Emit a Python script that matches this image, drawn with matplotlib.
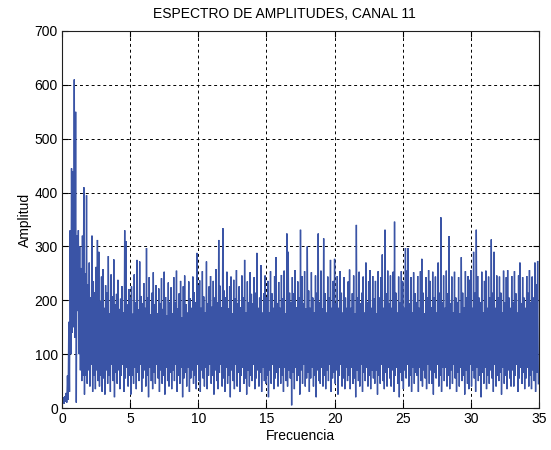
import numpy as np
import matplotlib
matplotlib.use("Agg")
import matplotlib.pyplot as plt

plt.rcParams['font.family'] = ['Liberation Sans', 'DejaVu Sans']

title = "ESPECTRO DE AMPLITUDES, CANAL 11"
xlabel = "Frecuencia"
ylabel = "Amplitud"
xticks = [0, 5, 10, 15, 20, 25, 30, 35]
yticks = [0, 100, 200, 300, 400, 500, 600, 700]

# local maxima of the spectrum, one every 0.1 Hz
upper = [
    25, 20, 22, 28, 60, 160, 330, 445, 440, 610,
    550, 320, 330, 300, 260, 320, 410, 250, 395, 230,
    270, 205, 320, 235, 215, 262, 312, 290, 198, 244,
    258, 186, 228, 214, 282, 176, 248, 207, 276, 193,
    212, 238, 184, 203, 226, 178, 330, 310, 192, 221,
    204, 226, 175, 248, 196, 275, 183, 272, 208, 194,
    232, 186, 297, 205, 243, 174, 214, 252, 192, 228,
    176, 222, 195, 241, 184, 253, 206, 172, 233, 197,
    224, 176, 243, 196, 255, 185, 213, 236, 168, 226,
    246, 193, 177, 235, 204, 186, 244, 215, 196, 288,
    228, 237, 186, 254, 207, 178, 272, 194, 226, 245,
    188, 236, 205, 258, 196, 312, 227, 187, 334, 218,
    206, 253, 185, 226, 244, 176, 238, 204, 256, 195,
    226, 187, 246, 205, 275, 178, 235, 196, 252, 212,
    194, 243, 214, 288, 186, 205, 265, 177, 213, 246,
    205, 236, 178, 254, 213, 186, 245, 280, 195, 234,
    186, 247, 204, 255, 176, 324, 290, 214, 196, 243,
    213, 256, 187, 235, 206, 331, 245, 195, 254, 185,
    300, 218, 186, 252, 205, 177, 246, 214, 324, 196,
    255, 185, 315, 213, 177, 244, 206, 275, 186, 236,
    277, 195, 245, 186, 254, 214, 177, 243, 205, 186,
    235, 257, 186, 213, 246, 176, 340, 205, 253, 195,
    214, 244, 177, 270, 196, 235, 256, 186, 245, 204,
    236, 176, 254, 205, 243, 285, 186, 331, 213, 255,
    195, 246, 186, 253, 346, 214, 177, 244, 196, 254,
    235, 186, 297, 255, 297, 195, 243, 177, 252, 213,
    196, 245, 186, 254, 277, 214, 176, 243, 205, 256,
    236, 187, 253, 205, 244, 177, 270, 214, 354, 196,
    246, 186, 255, 213, 319, 195, 244, 177, 253, 205,
    196, 243, 176, 280, 214, 187, 254, 205, 245, 238,
    256, 186, 290, 214, 331, 245, 205, 196, 253, 178,
    236, 255, 186, 244, 205, 313, 214, 290, 186, 246,
    205, 244, 214, 177, 255, 196, 243, 256, 205, 186,
    245, 196, 254, 213, 177, 246, 270, 195, 243, 205,
    186, 245, 214, 256, 196, 244, 205, 270, 230, 273,
]

# local minima, one between each pair of maxima
lower = [
    10, 8, 12, 10, 15, 30, 100, 140, 150, 130,
    10, 180, 100, 70, 50, 60, 25, 60, 45, 70,
    40, 80, 30, 60, 35, 70, 50, 40, 60, 30,
    55, 25, 70, 45, 60, 30, 80, 50, 20, 65,
    45, 70, 35, 60, 80, 30, 55, 75, 40, 60,
    25, 60, 45, 75, 35, 65, 50, 80, 30, 55,
    70, 40, 60, 20, 75, 50, 35, 65, 45, 80,
    55, 30, 70, 45, 60, 25, 75, 50, 40, 65,
    35, 70, 50, 80, 30, 60, 45, 75, 20, 55,
    65, 40, 75, 30, 55, 70, 45, 60, 35, 80,
    50, 30, 70, 55, 40, 75, 35, 60, 80, 45,
    60, 25, 70, 50, 35, 65, 80, 40, 55, 30,
    75, 45, 60, 20, 70, 50, 35, 80, 40, 65,
    30, 60, 75, 45, 55, 25, 70, 40, 60, 50,
    80, 35, 55, 70, 40, 65, 30, 75, 50, 45,
    60, 20, 70, 45, 80, 35, 55, 65, 40, 75,
    45, 60, 30, 75, 50, 40, 70, 55, 5, 65,
    35, 75, 50, 60, 25, 70, 45, 80, 40, 55,
    65, 30, 55, 75, 40, 60, 20, 70, 50, 45,
    75, 40, 60, 35, 70, 50, 80, 30, 55, 65,
    45, 70, 25, 60, 80, 40, 55, 35, 75, 50,
    60, 35, 75, 45, 55, 20, 70, 50, 40, 80,
    30, 65, 50, 75, 40, 60, 35, 70, 55, 45,
    70, 25, 60, 45, 80, 50, 35, 65, 40, 75,
    55, 40, 70, 30, 60, 75, 45, 20, 65, 50,
    35, 70, 55, 80, 40, 60, 30, 75, 45, 65,
    60, 30, 75, 50, 40, 70, 55, 35, 80, 45,
    70, 45, 25, 65, 55, 80, 40, 60, 30, 75,
    50, 75, 40, 60, 35, 70, 45, 80, 55, 30,
    65, 40, 75, 50, 60, 25, 70, 45, 35, 80,
    40, 70, 55, 30, 75, 50, 60, 20, 65, 45,
    75, 35, 60, 45, 70, 55, 30, 80, 40, 60,
    50, 65, 25, 75, 45, 60, 35, 70, 55, 40,
    70, 40, 60, 80, 30, 55, 75, 45, 65, 35,
    55, 75, 40, 60, 35, 70, 50, 30, 65, 45,
]

df = 0.1
n = len(upper)
freq = np.empty(2 * n)
amp = np.empty(2 * n)
freq[0::2] = np.arange(n) * df
freq[1::2] = np.arange(n) * df + df / 2
amp[0::2] = upper
amp[1::2] = lower

fig = plt.figure(figsize=(5.51, 4.5), dpi=100)
ax = fig.add_axes([62 / 551, 42 / 450, 477 / 551, 377 / 450])
ax.plot(freq, amp, color='#3a54a6', lw=1.0, solid_joinstyle='miter')

ax.set_xlim(0, 35)
ax.set_ylim(0, 700)
ax.set_xticks(xticks)
ax.set_yticks(yticks)
ax.tick_params(direction='in', top=True, right=True, length=4, width=0.8,
               labelsize=10, pad=3)
ax.grid(True, color='black', linestyle=(0, (3, 3)), linewidth=0.7)
for s in ax.spines.values():
    s.set_linewidth(0.8)
    s.set_color('#202020')
fig.text(284 / 551, 1 - 14 / 450, title, fontsize=10, ha='center', va='center')
ax.set_xlabel(xlabel, fontsize=10, labelpad=2)
ax.set_ylabel(ylabel, fontsize=10, labelpad=2)

fig.savefig('out.png', dpi=100)
